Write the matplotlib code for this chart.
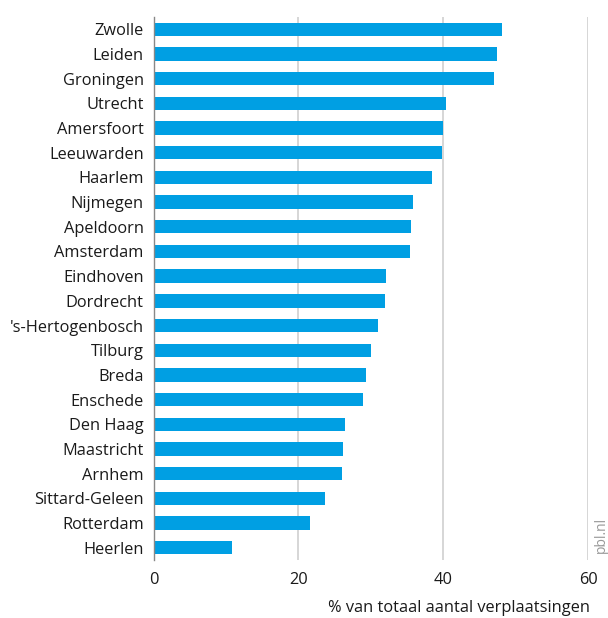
import matplotlib
matplotlib.use("Agg")
import matplotlib.pyplot as plt

plt.rcParams['font.family'] = ['Open Sans', 'DejaVu Sans']

cities = ["Zwolle", "Leiden", "Groningen", "Utrecht", "Amersfoort", "Leeuwarden",
          "Haarlem", "Nijmegen", "Apeldoorn", "Amsterdam", "Eindhoven", "Dordrecht",
          "'s-Hertogenbosch", "Tilburg", "Breda", "Enschede", "Den Haag", "Maastricht",
          "Arnhem", "Sittard-Geleen", "Rotterdam", "Heerlen"]
values = [48.1, 47.4, 47.0, 40.4, 40.0, 39.9, 38.5, 35.9, 35.6, 35.4, 32.1, 31.9,
          31.0, 30.0, 29.4, 28.9, 26.5, 26.1, 26.0, 23.7, 21.6, 10.8]
xticks = [0, 20, 40, 60]
xlabel = "% van totaal aantal verplaatsingen"
source = "pbl.nl"

fig = plt.figure(figsize=(6.08, 6.18), dpi=100)
ax = fig.add_axes([153.5/608, 1-560/618, 434.5/608, 543/618])

pos = list(range(len(cities)))
ax.barh(pos, values, height=0.54, color="#009FE3", zorder=3)
ax.set_ylim(len(cities)-0.5, -0.5)
ax.set_xlim(0, 60)
ax.set_yticks(pos)
ax.set_yticklabels(cities, fontsize=11.8, color="#1a1a1a")
ax.set_xticks(xticks)
ax.set_xticklabels([str(t) for t in xticks], fontsize=11.8, color="#1a1a1a")
ax.tick_params(axis='both', length=0)
ax.tick_params(axis='y', pad=7)
ax.tick_params(axis='x', pad=9)
for t in xticks[1:]:
    ax.axvline(t, color="#d0d0d0", lw=1.2, zorder=1)
for s in ["top", "right", "bottom"]:
    ax.spines[s].set_visible(False)
ax.spines["left"].set_color("#888888")
ax.spines["left"].set_linewidth(1.0)
ax.spines["left"].set_zorder(4)

fig.text(590/608, 1-608/618, xlabel, ha="right", va="center", fontsize=11.8, color="#1a1a1a")
fig.text(601/608, 1-535/618, source, rotation=90, ha="center", va="center", fontsize=10, color="#999999")

fig.savefig("out.png", dpi=100)
